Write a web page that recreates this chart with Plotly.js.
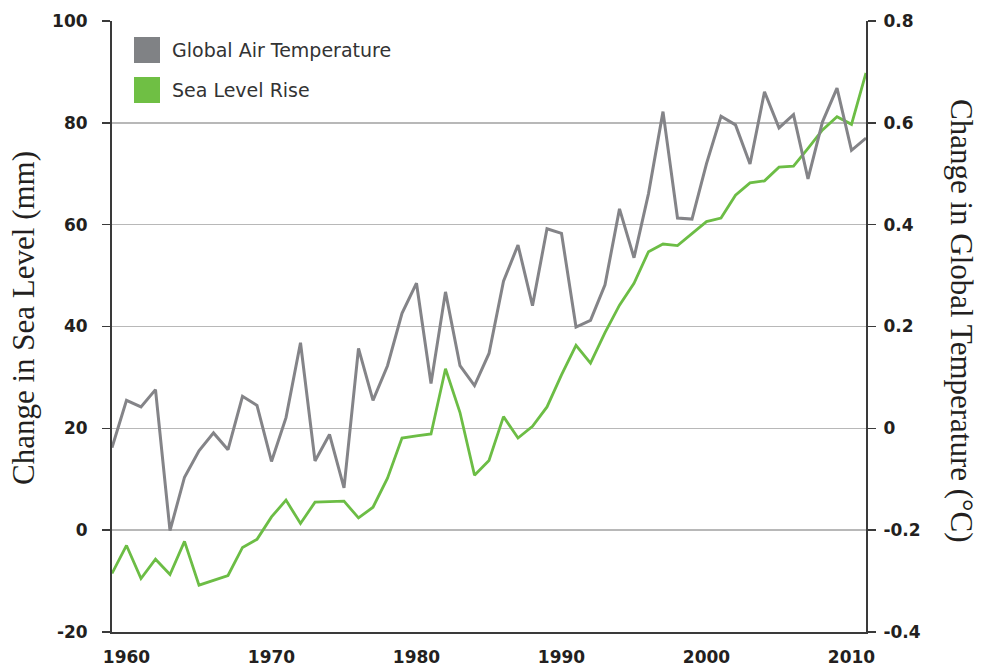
<!DOCTYPE html>
<html>
<head>
<meta charset="utf-8">
<script src="https://cdn.plot.ly/plotly-3.0.1.min.js"></script>
<style>
  html, body { margin: 0; padding: 0; background: #ffffff; }
  #chart { width: 982px; height: 669px; }
</style>
</head>
<body>
<div id="chart"></div>
<script>
// ---- data ----
const years = [1959,1960,1961,1962,1963,1964,1965,1966,1967,1968,1969,1970,1971,1972,1973,1974,1975,1976,1977,1978,
  1979,1980,1981,1982,1983,1984,1985,1986,1987,1988,1989,1990,1991,1992,1993,1994,1995,1996,1997,1998,
  1999,2000,2001,2002,2003,2004,2005,2006,2007,2008,2009,2010,2011];

// Change in global air temperature (°C), right axis
const airTemperature = [-0.038,0.055,0.042,0.076,-0.201,-0.096,-0.044,-0.009,-0.042,0.063,0.045,-0.065,0.021,0.168,-0.064,-0.012,-0.117,0.157,0.055,0.123,
  0.226,0.285,0.088,0.268,0.123,0.084,0.147,0.289,0.360,0.241,0.392,0.383,0.199,0.212,0.282,0.431,0.335,0.461,0.622,0.413,
  0.411,0.520,0.613,0.596,0.519,0.661,0.590,0.616,0.490,0.602,0.668,0.546,0.570];

// Change in sea level (mm), left axis
const seaLevel = [-8.5,-3.0,-9.5,-5.7,-8.7,-2.2,-10.8,-9.9,-8.9,-3.4,-1.8,2.6,5.9,1.3,5.5,5.6,5.7,2.4,4.5,10.2,
  18.1,18.5,18.9,31.7,23.1,10.8,13.7,22.3,18.1,20.4,24.2,30.5,36.3,32.8,38.8,44.2,48.5,54.7,56.2,55.9,
  58.3,60.6,61.3,65.8,68.2,68.6,71.3,71.5,75.0,78.6,81.2,79.7,89.8];

const seriesNames = ["Global Air Temperature", "Sea Level Rise"];
const xTickVals = [1960, 1970, 1980, 1990, 2000, 2010];
const xTickText = ["1960", "1970", "1980", "1990", "2000", "2010"];
const yTickVals = [-20, 0, 20, 40, 60, 80, 100];
const yTickText = ["-20", "0", "20", "40", "60", "80", "100"];
const y2TickVals = [-0.4, -0.2, 0, 0.2, 0.4, 0.6, 0.8];
const y2TickText = ["-0.4", "-0.2", "0", "0.2", "0.4", "0.6", "0.8"];
const leftTitle = "Change in Sea Level (mm)";
const rightTitle = "Change in Global Temperature (°C)";

// ---- styles ----
const GRAY = "#848488";
const GREEN = "#6cbd45";
const AXIS = "#3a3a3a";
const TEXT = "#231f20";
const tickFont = { family: "DejaVu Sans", size: 17, color: TEXT, weight: "bold" };
const titleFont = { family: "Liberation Serif", size: 31, color: TEXT };
const legendFont = { family: "DejaVu Sans", size: 19, color: "#333333" };

const traces = [
  {
    x: years, y: seaLevel, type: "scatter", mode: "lines", name: seriesNames[1],
    line: { color: GREEN, width: 2.8 }, yaxis: "y", showlegend: false, hoverinfo: "skip"
  },
  {
    x: years, y: airTemperature, type: "scatter", mode: "lines", name: seriesNames[0],
    line: { color: GRAY, width: 3 }, yaxis: "y2", showlegend: false, hoverinfo: "skip"
  }
];

// legend made from shapes + annotations (pixel-matched swatches)
const PW = 982 - 112 - 116, PH = 669 - 21 - 37;
const px = v => (v - 112) / PW;
const py = v => (669 - 37 - v) / PH;

const layout = {
  width: 982, height: 669,
  margin: { l: 112, r: 116, t: 21, b: 37, pad: 0 },
  paper_bgcolor: "#ffffff", plot_bgcolor: "#ffffff",
  showlegend: false,
  xaxis: {
    range: [1959, 2011], tickvals: xTickVals, ticktext: xTickText,
    showgrid: false, zeroline: false, showline: true, linecolor: AXIS, linewidth: 2,
    ticks: "", ticklabelstandoff: 9, tickfont: tickFont, fixedrange: true
  },
  yaxis: {
    range: [-20, 100], tickvals: yTickVals, ticktext: yTickText,
    showgrid: true, gridcolor: "#b8b8b8", gridwidth: 1.5, zeroline: false,
    showline: true, linecolor: AXIS, linewidth: 2,
    ticks: "outside", ticklen: 8, tickwidth: 1.5, tickcolor: AXIS,
    ticklabelstandoff: 11, tickfont: tickFont, fixedrange: true
  },
  yaxis2: {
    range: [-0.4, 0.8], tickvals: y2TickVals, ticktext: y2TickText,
    overlaying: "y", side: "right", showgrid: false, zeroline: false,
    showline: true, linecolor: AXIS, linewidth: 2,
    ticks: "outside", ticklen: 8, tickwidth: 1.5, tickcolor: AXIS,
    ticklabelstandoff: 4, tickfont: tickFont, fixedrange: true
  },
  shapes: [
    { type: "rect", xref: "paper", yref: "paper", x0: px(134), x1: px(160), y0: py(63), y1: py(37),
      fillcolor: "#808285", line: { width: 0 } },
    { type: "rect", xref: "paper", yref: "paper", x0: px(134), x1: px(160), y0: py(103), y1: py(77),
      fillcolor: "#6fbf44", line: { width: 0 } }
  ],
  annotations: [
    { text: seriesNames[0], xref: "paper", yref: "paper", x: px(170), y: py(50), xanchor: "left", yanchor: "middle",
      showarrow: false, font: legendFont },
    { text: seriesNames[1], xref: "paper", yref: "paper", x: px(170), y: py(90), xanchor: "left", yanchor: "middle",
      showarrow: false, font: legendFont },
    { text: leftTitle, xref: "paper", yref: "paper", x: px(23), y: py(318), xanchor: "center", yanchor: "middle",
      textangle: -90, showarrow: false, font: titleFont },
    { text: rightTitle, xref: "paper", yref: "paper", x: px(962), y: py(321), xanchor: "center", yanchor: "middle",
      textangle: 90, showarrow: false, font: titleFont }
  ]
};

Plotly.newPlot("chart", traces, layout, { staticPlot: true, displayModeBar: false });
</script>
</body>
</html>
